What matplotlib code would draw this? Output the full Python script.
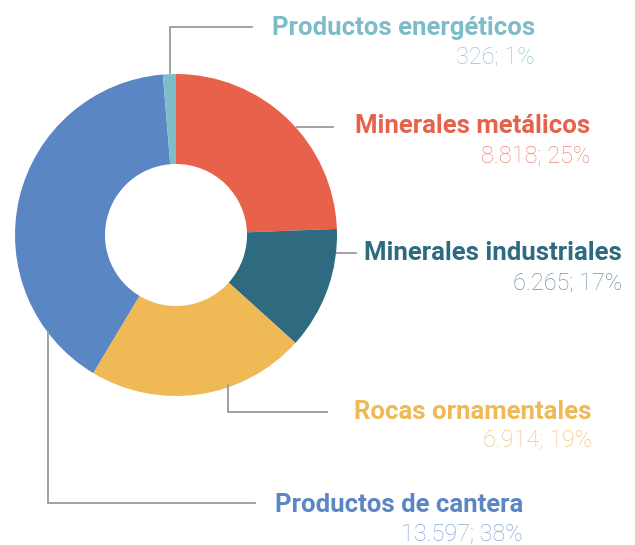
import matplotlib
matplotlib.use("Agg")
import matplotlib.pyplot as plt

# datos en orden horario desde arriba
categorias = ["Minerales metálicos", "Minerales industriales", "Rocas ornamentales",
              "Productos de cantera", "Productos energéticos"]
etiquetas_valor = ["8.818; 25%", "6.265; 17%", "6.914; 19%", "13.597; 38%", "326; 1%"]
# tamaño de los sectores tal como se ven dibujados en el gráfico (%)
sectores = [24.4, 12.3, 21.9, 40.1, 1.3]

colores = ["#e8614a", "#2e6a80", "#efba56", "#5b86c4", "#7fbcc9"]
colores_claros = ["#ec8a76", "#6f93a8", "#f1c477", "#84a6d8", "#94c8d3"]

W, H = 635, 545
fig = plt.figure(figsize=(W / 100, H / 100), dpi=100)
ax = fig.add_axes([0, 0, 1, 1])

def py(y):
    # pixel y (desde arriba) -> coordenada de datos
    return H - y

ax.pie(sectores, colors=colores, startangle=90, counterclock=False,
       center=(176, py(235)), radius=161, frame=True,
       wedgeprops=dict(width=90, linewidth=0))
ax.set_xlim(0, W)
ax.set_ylim(0, H)
ax.set_aspect("equal")
ax.axis("off")

# líneas guía (en píxeles)
lineas = [
    [(297, 127), (333, 127)],
    [(337, 253), (356, 253)],
    [(228, 385), (228, 412), (327, 412)],
    [(48, 332), (48, 503), (255, 503)],
    [(170, 73), (170, 27), (252, 27)],
]
for pts in lineas:
    ax.plot([p[0] for p in pts], [py(p[1]) for p in pts], color="#9a9a9a", lw=1.3,
            solid_joinstyle="miter")

# posiciones de texto: borde derecho, línea base del título, línea base del valor
pos_texto = [(590, 133, 162), (622, 260, 289), (592, 419, 446), (523, 512, 540), (535, 35, 63)]
for cat, val, c, cc, (x, y1, y2) in zip(categorias, etiquetas_valor, colores, colores_claros, pos_texto):
    ax.text(x, py(y1), cat, ha="right", va="baseline", fontsize=18.5,
            fontweight="bold", family="Roboto", color=c)
    ax.text(x, py(y2), val, ha="right", va="baseline", fontsize=16.8,
            fontweight="light", family="Roboto", color=cc)

fig.savefig("out.png", dpi=100)
